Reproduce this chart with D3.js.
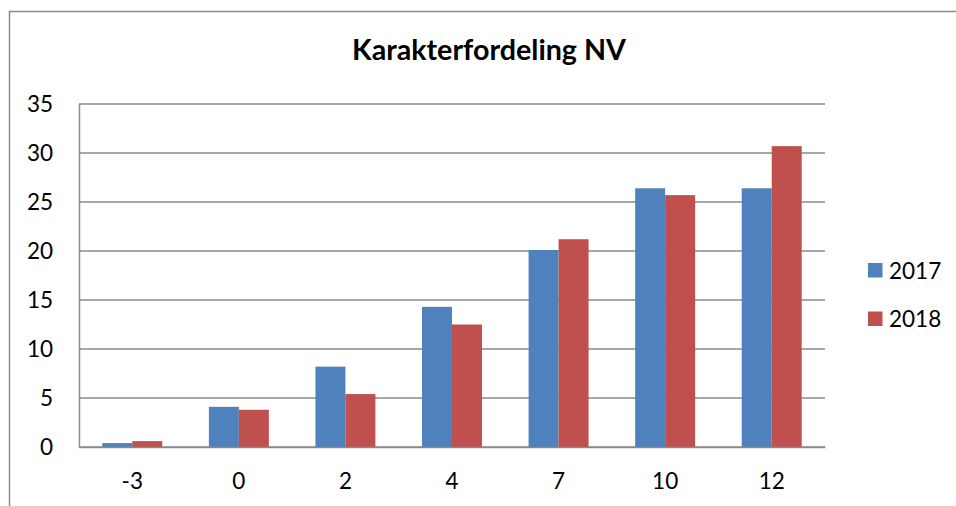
<!DOCTYPE html>
<html>
<head>
<meta charset="utf-8">
<script src="https://cdn.jsdelivr.net/npm/d3@7"></script>
<style>
  body { margin: 0; background: #fff; }
  svg { display: block; font-family: Lato, "Open Sans", sans-serif; }
</style>
</head>
<body>
<div class="canvas"></div>
<script>
// data
const categories = ['-3', '0', '2', '4', '7', '10', '12'];
const seriesNames = ['2017', '2018'];
const values2017 = [0.4, 4.1, 8.2, 14.3, 20.1, 26.4, 26.4];
const values2018 = [0.6, 3.8, 5.4, 12.5, 21.2, 25.7, 30.7];
const yTicks = [0, 5, 10, 15, 20, 25, 30, 35];
const colors = ['#4F81BD', '#C0504D'];

const width = 956, height = 506;
const plot = {left: 79, right: 825, top: 104, bottom: 447};

const svg = d3.select('.canvas')
  .append('svg')
    .attr('width', width)
    .attr('height', height);

// outer chart frame (only the left and top edges show)
svg.append('path')
  .attr('d', `M9.5,${height} V11.5 H${width}`)
  .attr('fill', 'none')
  .attr('stroke', '#8c8c8c')
  .attr('stroke-width', 1.5);

// scales
const x0 = d3.scaleBand()
  .domain(categories)
  .range([plot.left, plot.right]);

const x1 = d3.scaleBand()
  .domain(seriesNames)
  .range([0, x0.bandwidth()])
  .paddingOuter(0.777);

const y = d3.scaleLinear()
  .domain([0, 35])
  .range([plot.bottom, plot.top]);

// gridlines
svg.append('g')
  .selectAll('line')
  .data(yTicks)
  .enter()
  .append('line')
    .attr('x1', plot.left)
    .attr('x2', plot.right)
    .attr('y1', d => y(d))
    .attr('y2', d => y(d))
    .attr('stroke', '#8a8a8a')
    .attr('stroke-width', 1.5);

// bars
const rows = categories.map((c, i) => ({cat: c, vals: [values2017[i], values2018[i]]}));

const groups = svg.append('g')
  .selectAll('g')
  .data(rows)
  .enter()
  .append('g')
    .attr('transform', d => `translate(${x0(d.cat)},0)`);

groups.selectAll('rect')
  .data(d => d.vals.map((v, k) => ({name: seriesNames[k], v, k})))
  .enter()
  .append('rect')
    .attr('x', d => x1(d.name))
    .attr('width', x1.bandwidth())
    .attr('y', d => y(d.v))
    .attr('height', d => y(0) - y(d.v))
    .attr('fill', d => colors[d.k]);

// axes
const yAxis = d3.axisLeft(y)
  .tickValues(yTicks)
  .tickSize(0)
  .tickPadding(26);

const yAxisGroup = svg.append('g')
  .attr('transform', `translate(${plot.left},0)`)
  .call(yAxis);

const xAxis = d3.axisBottom(x0)
  .tickSize(0)
  .tickPadding(26);

const xAxisGroup = svg.append('g')
  .attr('transform', `translate(0,${plot.bottom})`)
  .call(xAxis);

[yAxisGroup, xAxisGroup].forEach(g => {
  g.select('.domain')
    .attr('stroke', '#8a8a8a')
    .attr('stroke-width', 1.5);
  g.selectAll('text')
    .attr('font-family', 'Lato, "Open Sans", sans-serif')
    .attr('font-size', 22.5)
    .attr('fill', '#000');
});

// title
const title = svg.append('text')
  .attr('x', 489)
  .attr('y', 60)
  .attr('text-anchor', 'middle')
  .attr('font-weight', 'bold')
  .attr('font-size', 26)
  .text('Karakterfordeling NV');
const tw = title.node().getComputedTextLength();
title.attr('font-size', 26 * 274 / tw);

// legend
const legend = svg.append('g')
  .selectAll('g')
  .data(seriesNames)
  .enter()
  .append('g')
    .attr('transform', (d, i) => `translate(868,${263 + i * 48.5})`);

legend.append('rect')
  .attr('width', 14.5)
  .attr('height', 14.5)
  .attr('fill', (d, i) => colors[i]);

legend.append('text')
  .attr('x', 21)
  .attr('y', 15.5)
  .attr('font-size', 22.5)
  .text(d => d);
</script>
</body>
</html>
